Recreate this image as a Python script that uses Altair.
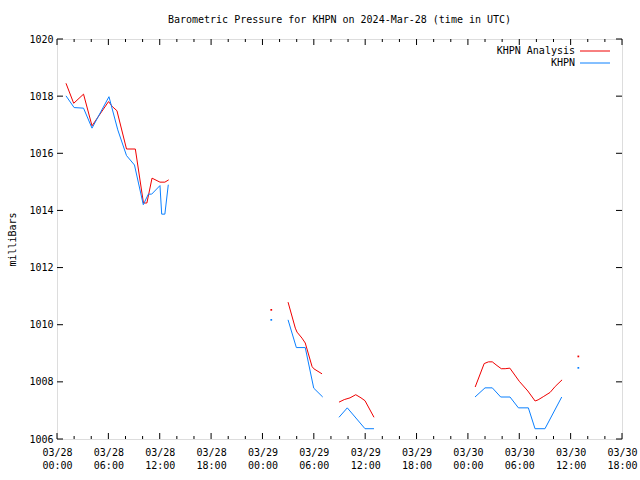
import altair as alt
import pandas as pd

TITLE = "Barometric Pressure for KHPN on 2024-Mar-28 (time in UTC)"
Y_TITLE = "milliBars"
series_names = ["KHPN Analysis", "KHPN"]
series_colors = ["#f00000", "#0a80ff"]

# hours since 2024-03-28 00:00 UTC, values in mb; each inner list is one unbroken segment
analysis_hours = [
    [1.05, 1.95, 3.1, 4.09, 6.02, 6.48, 7.0, 8.12, 9.15, 10.1, 10.5, 11.1, 12.03, 12.6, 13.05],
    [25.03],
    [26.99, 27.84, 28.04, 28.62, 29.0, 29.79, 29.99, 30.96],
    [32.94, 33.56, 34.23, 34.9, 35.51, 35.98, 37.03],
    [48.85, 49.9, 50.4, 50.85, 51.4, 51.9, 52.35, 52.9, 54.0, 55.0, 55.85, 56.2, 56.8, 57.6, 58.2, 59.0],
    [60.9],
]
analysis_mb = [
    [1018.45, 1017.75, 1018.07, 1016.96, 1017.81, 1017.63, 1017.49, 1016.15, 1016.15, 1014.26, 1014.26, 1015.13, 1014.99, 1014.99, 1015.07],
    [1010.52],
    [1010.79, 1009.88, 1009.74, 1009.53, 1009.36, 1008.54, 1008.46, 1008.28],
    [1007.29, 1007.38, 1007.44, 1007.55, 1007.44, 1007.34, 1006.76],
    [1007.82, 1008.64, 1008.70, 1008.70, 1008.57, 1008.46, 1008.46, 1008.48, 1008.02, 1007.68, 1007.33, 1007.37, 1007.48, 1007.63, 1007.84, 1008.07],
    [1008.89],
]
khpn_hours = [
    [1.05, 2.0, 3.1, 4.09, 6.07, 7.1, 8.12, 9.05, 10.08, 10.67, 11.06, 12.03, 12.23, 12.6, 13.0],
    [25.03],
    [26.99, 27.96, 29.0, 29.99, 31.04],
    [32.94, 33.91, 35.98, 37.03],
    [48.83, 50.0, 50.85, 51.83, 52.92, 53.9, 55.06, 55.84, 57.0, 58.96],
    [60.9],
]
khpn_mb = [
    [1018.01, 1017.60, 1017.58, 1016.88, 1017.98, 1016.82, 1015.92, 1015.59, 1014.20, 1014.57, 1014.57, 1014.87, 1013.87, 1013.87, 1014.90],
    [1010.17],
    [1010.17, 1009.20, 1009.20, 1007.78, 1007.47],
    [1006.76, 1007.09, 1006.36, 1006.36],
    [1007.47, 1007.79, 1007.79, 1007.47, 1007.47, 1007.09, 1007.09, 1006.36, 1006.36, 1007.47],
    [1008.49],
]

x_major_hours = [0, 6, 12, 18, 24, 30, 36, 42, 48, 54, 60, 66]
x_tick_dates = ["03/28", "03/28", "03/28", "03/28", "03/29", "03/29", "03/29", "03/29", "03/30", "03/30", "03/30", "03/30"]
x_tick_times = ["00:00", "06:00", "12:00", "18:00", "00:00", "06:00", "12:00", "18:00", "00:00", "06:00", "12:00", "18:00"]
x_minor_hours = [h for h in range(0, 67, 2) if h % 6 != 0]
y_major = [1006, 1008, 1010, 1012, 1014, 1016, 1018, 1020]

W, H = 565, 400
FONT = "DejaVu Sans Mono"

rows, singles = [], []
for name, hs, vs in [(series_names[0], analysis_hours, analysis_mb), (series_names[1], khpn_hours, khpn_mb)]:
    for i, (sh, sv) in enumerate(zip(hs, vs)):
        target = singles if len(sh) == 1 else rows
        for h, v in zip(sh, sv):
            target.append({"series": name, "seg": f"{name}-{i}", "hour": h, "mb": v})
df = pd.DataFrame(rows)
df_single = pd.DataFrame(singles)

xscale = alt.Scale(domain=[0, 66], nice=False, zero=False)
yscale = alt.Scale(domain=[1006, 1020], nice=False, zero=False)
color = alt.Color("series:N", scale=alt.Scale(domain=series_names, range=series_colors), legend=None)

label_expr = (f"[{x_tick_dates}[indexof({x_major_hours}, datum.value)], "
              f"{x_tick_times}[indexof({x_major_hours}, datum.value)]]")

xaxis = alt.Axis(values=x_major_hours, labelExpr=label_expr, ticks=False, tickSize=0, domain=False,
                 grid=False, title=None, labelFont=FONT, labelFontSize=10, labelColor="black",
                 labelPadding=8, labelLineHeight=13, labelBaseline="top", labelAngle=0, labelFlush=False,
                 labelOverlap=False)
yaxis = alt.Axis(values=y_major, format="d", ticks=False, tickSize=0, domain=False, grid=False, title=Y_TITLE,
                 labelFont=FONT, labelFontSize=10, labelColor="black", labelPadding=4,
                 titleFont=FONT, titleFontSize=10, titleFontWeight="normal", titleColor="black",
                 titleX=-45, titleY=200, titleAngle=-90, titleAlign="center", titleBaseline="middle")

lines = alt.Chart(df).mark_line(strokeWidth=1, interpolate="linear").encode(
    x=alt.X("hour:Q", scale=xscale, axis=xaxis),
    y=alt.Y("mb:Q", scale=yscale, axis=yaxis),
    color=color,
    detail="seg:N",
)
dots = alt.Chart(df_single).mark_square(size=3, opacity=1).encode(
    x=alt.X("hour:Q", scale=xscale), y=alt.Y("mb:Q", scale=yscale), color=color)

xmaj = pd.DataFrame({"hour": x_major_hours})
xmin = pd.DataFrame({"hour": x_minor_hours})
ymaj = pd.DataFrame({"mb": y_major})

def xticks(d, y1, y2):
    return alt.Chart(d).mark_rule(color="black", strokeWidth=1).encode(
        x=alt.X("hour:Q", scale=xscale), y=alt.value(y1), y2=alt.value(y2))

def yticks(d, x1, x2):
    return alt.Chart(d).mark_rule(color="black", strokeWidth=1).encode(
        y=alt.Y("mb:Q", scale=yscale), x=alt.value(x1), x2=alt.value(x2))

ticks = [
    xticks(xmaj, H, H - 6), xticks(xmaj, 0, 6),
    xticks(xmin, H, H - 3), xticks(xmin, 0, 3),
    yticks(ymaj, 0, 6), yticks(ymaj, W, W - 6),
]

legend_layers = []
for i, (name, col) in enumerate(zip(series_names, series_colors)):
    ld = pd.DataFrame({"series": [name]})
    yy = 12 + 12 * i
    legend_layers.append(alt.Chart(ld).mark_text(align="right", baseline="middle", font=FONT,
                                                 fontSize=10, color="black").encode(
        text="series:N", x=alt.value(518), y=alt.value(yy)))
    legend_layers.append(alt.Chart(ld).mark_rule(color=col, strokeWidth=1).encode(
        x=alt.value(523), x2=alt.value(553), y=alt.value(yy)))

chart = alt.layer(lines, dots, *ticks, *legend_layers).properties(
    width=W, height=H,
    title=alt.TitleParams(TITLE, font=FONT, fontSize=10, fontWeight="normal", anchor="middle",
                          baseline="bottom", offset=0, dy=1, color="black"),
    padding={"left": 57, "top": 39, "right": 18, "bottom": 41},
    autosize=alt.AutoSizeParams(type="none"),
).configure_view(stroke="black", strokeWidth=1).configure(background="white")

chart.save("out.html", embed_options={"renderer": "svg", "actions": False})
